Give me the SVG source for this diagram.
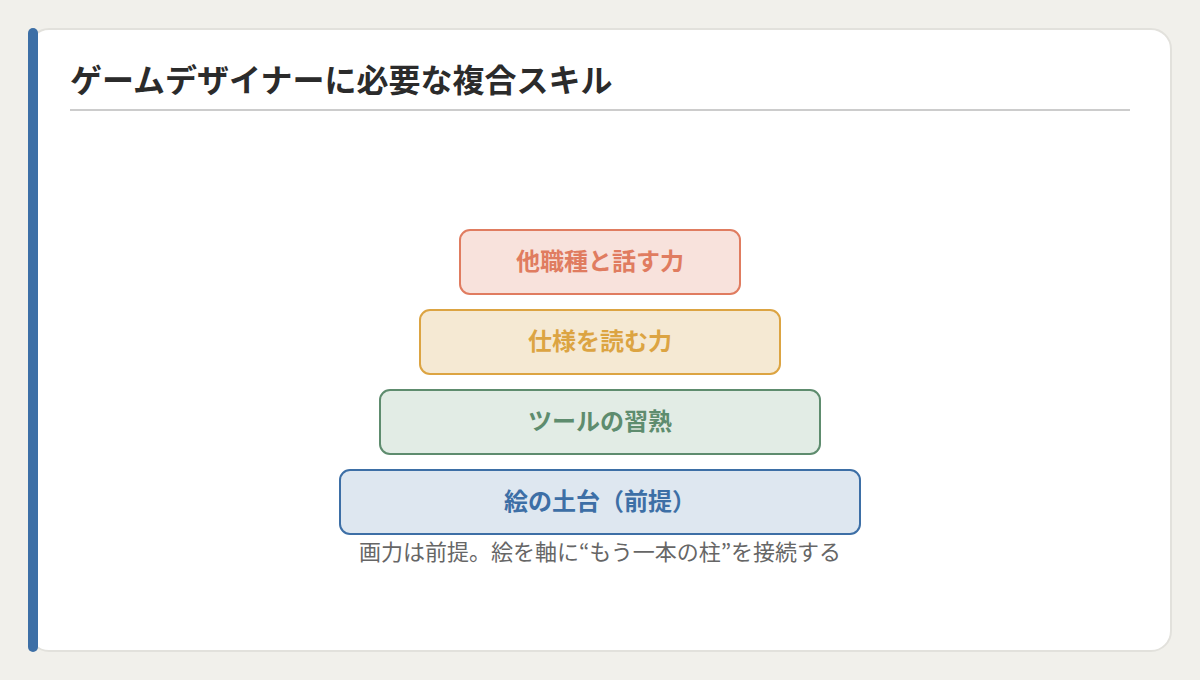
<svg xmlns="http://www.w3.org/2000/svg" width="1200" height="680" viewBox="0 0 1200 680">
  <style>
    .jp { font-family: "Noto Sans CJK JP", "Noto Sans", sans-serif; }
    .lbl { font-size: 24px; font-weight: 700; text-anchor: middle; }
    .box { stroke-width: 2; }
  </style>
  <rect x="0" y="0" width="1200" height="680" fill="#f1f0eb"/>
  <g id="card">
    <rect x="29" y="29" width="1142" height="622" rx="20" ry="20" fill="#ffffff" stroke="#e2e1dc" stroke-width="2"/>
    <rect x="28" y="28" width="10" height="624" rx="5" ry="5" fill="#3d6fa6"/>
  </g>
  <g id="title">
    <text x="70" y="92" class="jp" font-size="32" font-weight="700" fill="#2b2b2b">ゲームデザイナーに必要な複合スキル</text>
    <line x1="70" y1="110" x2="1130" y2="110" stroke="#cccccc" stroke-width="2"/>
  </g>
  <g id="connectors"></g>
  <g id="node-talk">
    <rect class="box" x="460" y="230" width="280" height="64" rx="10" fill="#f8e2dc" stroke="#e07c60"/>
    <text x="600" y="270" class="jp lbl" fill="#e07c60">他職種と話す力</text>
  </g>
  <g id="node-spec">
    <rect class="box" x="420" y="310" width="360" height="64" rx="10" fill="#f5e9d3" stroke="#dca442"/>
    <text x="600" y="350" class="jp lbl" fill="#dca442">仕様を読む力</text>
  </g>
  <g id="node-tool">
    <rect class="box" x="380" y="390" width="440" height="64" rx="10" fill="#e2ece5" stroke="#5e8c6e"/>
    <text x="600" y="430" class="jp lbl" fill="#5e8c6e">ツールの習熟</text>
  </g>
  <g id="node-base">
    <rect class="box" x="340" y="470" width="520" height="64" rx="10" fill="#dee7f0" stroke="#3d6fa6"/>
    <text x="600" y="510" class="jp lbl" fill="#3d6fa6">絵の土台（前提）</text>
  </g>
  <g id="caption">
    <text x="600" y="560" class="jp" font-size="22" text-anchor="middle" fill="#666666">画力は前提。絵を軸に“もう一本の柱”を接続する</text>
  </g>
</svg>
